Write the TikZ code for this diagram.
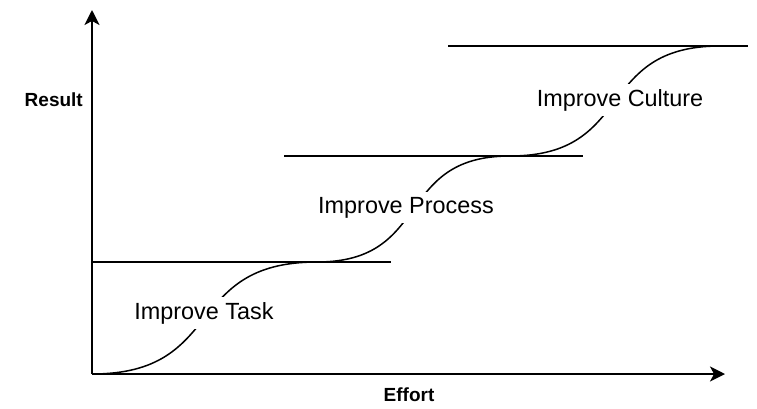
\documentclass[tikz,border=0pt]{standalone}
\usepackage{fontspec}
\setmainfont{Liberation Sans}
\usetikzlibrary{arrows.meta}
\tikzset{
  ln/.style={line width=1.5pt, black},
  axis/.style={line width=1.7pt, black, -{Stealth[length=15pt,width=15pt,inset=4pt]}},
  stagelabel/.style={fill=white, inner xsep=3pt, inner ysep=5pt, anchor=base, font=\fontsize{23.4}{28}\selectfont},
  axislabel/.style={inner sep=0pt, anchor=base, font=\fontsize{19}{23}\selectfont\bfseries}
}
\begin{document}
\begin{tikzpicture}[x=1pt,y=-1pt]
\useasboundingbox (0,0) rectangle (757,408);
% axes
\coordinate (o) at (92,374);
\coordinate (ytip) at (92,10);
\coordinate (xtip) at (725,374);
\draw[axis] (o) -- (ytip);
\draw[axis] (o) -- (xtip);
% level lines
\coordinate (l1a) at (92,262); \coordinate (l1b) at (391,262);
\coordinate (l2a) at (284,156); \coordinate (l2b) at (583,156);
\coordinate (l3a) at (448,46);  \coordinate (l3b) at (748,46);
\draw[ln] (l1a) -- (l1b);
\draw[ln] (l2a) -- (l2b);
\draw[ln] (l3a) -- (l3b);
% S-curve
\coordinate (p1) at (317,262);
\coordinate (p2) at (510,156);
\coordinate (p3) at (720,46);
\draw[ln] (o) .. controls (227,374) and (182,262) .. (p1)
              .. controls (433,262) and (394,156) .. (p2)
              .. controls (636,156) and (594,46) .. (p3);
% labels
\node[stagelabel] (task) at (204,319) {Improve Task};
\node[stagelabel] (process) at (406,213) {Improve Process};
\node[stagelabel] (culture) at (620,106) {Improve Culture};
\node[axislabel, anchor=base east] (result) at (83,106) {Result};
\node[axislabel] (effort) at (409,401) {Effort};
\end{tikzpicture}
\end{document}
